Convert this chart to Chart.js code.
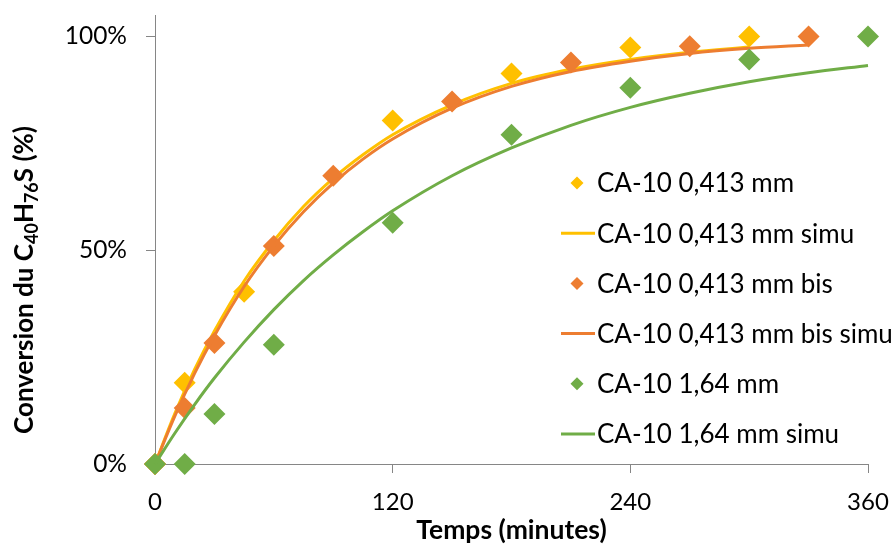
<!DOCTYPE html>
<html>
<head>
<meta charset="utf-8">
<script src="https://cdn.jsdelivr.net/npm/chart.js@4.4.1/dist/chart.umd.min.js"></script>
<style>
  html, body { margin: 0; padding: 0; background: #fff; }
  canvas { display: block; }
</style>
</head>
<body>
<canvas id="chart" width="895" height="544"></canvas>
<script>
// Valeurs
const xTicks = [0, 120, 240, 360];
const yTicks = [0, 50, 100];

const seriesLabels = [
  'CA-10 0,413 mm',
  'CA-10 0,413 mm simu',
  'CA-10 0,413 mm bis',
  'CA-10 0,413 mm bis simu',
  'CA-10 1,64 mm',
  'CA-10 1,64 mm simu'
];

// points expérimentaux (minutes, %)
const tempsA = [0, 15, 45, 120, 180, 240, 300];
const convA  = [0, 19, 40.3, 80.3, 91.3, 97.4, 100];

const tempsB = [0, 15, 30, 60, 90, 150, 210, 270, 330];
const convB  = [0, 13.1, 28.3, 51, 67.4, 84.8, 93.9, 97.7, 100];

const tempsC = [0, 15, 30, 60, 120, 180, 240, 300, 360];
const convC  = [0, 0, 11.7, 27.9, 56.4, 77, 88, 94.6, 100];

// courbes simulées
const simuTempsA = [0, 10, 20, 30, 45, 60, 75, 90, 105, 120, 150, 180, 210, 240, 270, 300];
const simuA      = [0, 11.8, 22.1, 31.1, 42.8, 52.2, 60.2, 66.8, 72.3, 77.0, 84.0, 89.0, 92.3, 94.6, 96.3, 97.5];

const simuTempsB = [0, 10, 20, 30, 45, 60, 75, 90, 105, 120, 150, 180, 210, 240, 270, 300, 330];
const simuB      = [0, 11.2, 21.2, 30.0, 41.5, 51.0, 59.0, 65.7, 71.3, 76.0, 83.2, 88.3, 91.8, 94.2, 96.0, 97.2, 98.0];

const simuTempsC = [0, 10, 20, 30, 45, 60, 75, 90, 105, 120, 150, 180, 210, 240, 270, 300, 330, 360];
const simuC      = [0, 7.2, 13.9, 20.1, 28.5, 36.1, 42.9, 48.9, 54.3, 59.2, 67.4, 73.9, 79.2, 83.4, 86.7, 89.4, 91.5, 93.2];

const couleurs = { jaune: '#FFC000', orange: '#ED7D31', vert: '#70AD47' };

const pts = (xs, ys) => xs.map((x, i) => ({ x, y: ys[i] }));

function scatterSet(label, data, color, order) {
  return {
    label, data, order,
    showLine: false,
    clip: false,
    pointStyle: 'rectRot',
    pointRadius: 11,
    pointHoverRadius: 11,
    pointBackgroundColor: color,
    pointBorderColor: color,
    pointBorderWidth: 0,
    kind: 'point'
  };
}

function simuSet(label, data, color, order) {
  return {
    label, data, order,
    showLine: true,
    clip: false,
    borderColor: color,
    borderWidth: 3,
    pointRadius: 0,
    pointHoverRadius: 0,
    cubicInterpolationMode: 'monotone',
    kind: 'line'
  };
}

// pas de marge automatique autour des axes
function sansMarge(s) {
  s.paddingTop = 0; s.paddingBottom = 0; s.paddingLeft = 0; s.paddingRight = 0;
}

// légende dessinée à la main, dans la zone du graphique
const legendeExcel = {
  id: 'legendeExcel',
  afterDraw(chart) {
    const ctx = chart.ctx;
    const x0 = 577, y0 = 183, pas = 50.2, xTexte = 597;
    ctx.save();
    chart.data.datasets.forEach((ds, i) => {
      const y = y0 + i * pas;
      if (ds.kind === 'point') {
        const r = 6.5;
        ctx.fillStyle = ds.pointBackgroundColor;
        ctx.beginPath();
        ctx.moveTo(x0 - r, y);
        ctx.lineTo(x0, y - r);
        ctx.lineTo(x0 + r, y);
        ctx.lineTo(x0, y + r);
        ctx.closePath();
        ctx.fill();
      } else {
        ctx.strokeStyle = ds.borderColor;
        ctx.lineWidth = 3;
        ctx.beginPath();
        ctx.moveTo(561, y);
        ctx.lineTo(595, y);
        ctx.stroke();
      }
      ctx.fillStyle = '#000';
      ctx.font = '26px Lato';
      ctx.textBaseline = 'middle';
      ctx.textAlign = 'left';
      ctx.fillText(ds.label, xTexte, y + 1);
    });
    ctx.restore();
  }
};

// titre vertical avec indices
const titreY = {
  id: 'titreY',
  afterDraw(chart) {
    const ctx = chart.ctx;
    const morceaux = [
      ['Conversion du C', false], ['40', true], ['H', false], ['76', true], ['S (%)', false]
    ];
    const grand = 'bold 26px Lato', petit = 'bold 18px Lato';
    ctx.save();
    ctx.textAlign = 'left';
    let total = 0;
    morceaux.forEach(([t, sub]) => { ctx.font = sub ? petit : grand; total += ctx.measureText(t).width; });
    ctx.translate(33, 280);
    ctx.rotate(-Math.PI / 2);
    ctx.fillStyle = '#000';
    ctx.textBaseline = 'alphabetic';
    let x = -total / 2;
    morceaux.forEach(([t, sub]) => {
      ctx.font = sub ? petit : grand;
      ctx.fillText(t, x, sub ? 5 : 0);
      x += ctx.measureText(t).width;
    });
    ctx.restore();
  }
};

new Chart(document.getElementById('chart'), {
  type: 'scatter',
  data: {
    datasets: [
      scatterSet(seriesLabels[0], pts(tempsA, convA), couleurs.jaune, 6),
      simuSet(seriesLabels[1], pts(simuTempsA, simuA), couleurs.jaune, 5),
      scatterSet(seriesLabels[2], pts(tempsB, convB), couleurs.orange, 4),
      simuSet(seriesLabels[3], pts(simuTempsB, simuB), couleurs.orange, 3),
      scatterSet(seriesLabels[4], pts(tempsC, convC), couleurs.vert, 2),
      simuSet(seriesLabels[5], pts(simuTempsC, simuC), couleurs.vert, 1)
    ]
  },
  options: {
    responsive: false,
    animation: false,
    layout: { padding: { top: 15, right: 27, left: 0, bottom: 0 } },
    plugins: {
      legend: { display: false },
      tooltip: { enabled: false }
    },
    scales: {
      x: {
        type: 'linear',
        min: 0, max: 360,
        afterBuildTicks: s => { s.ticks = xTicks.map(v => ({ value: v })); },
        afterFit: s => { s.height = 80; sansMarge(s); },
        grid: { display: true, drawOnChartArea: false, drawTicks: true, tickLength: 9, color: '#868686' },
        border: { color: '#868686', width: 1 },
        ticks: { color: '#000', font: { family: 'Lato', size: 24 }, padding: 15, maxRotation: 0 },
        title: {
          display: true,
          text: 'Temps (minutes)',
          color: '#000',
          font: { family: 'Lato', size: 26.5, weight: 'bold' },
          padding: { top: 0, bottom: -2 }
        }
      },
      y: {
        min: 0, max: 105,
        afterBuildTicks: s => { s.ticks = yTicks.map(v => ({ value: v })); },
        afterFit: s => { s.width = 155; sansMarge(s); },
        grid: { display: true, drawOnChartArea: false, drawTicks: true, tickLength: 9, color: '#868686' },
        border: { color: '#868686', width: 1 },
        ticks: {
          color: '#000',
          font: { family: 'Lato', size: 24.5 },
          padding: 19,
          callback: v => v + '%'
        }
      }
    }
  },
  plugins: [legendeExcel, titreY]
});
</script>
</body>
</html>
